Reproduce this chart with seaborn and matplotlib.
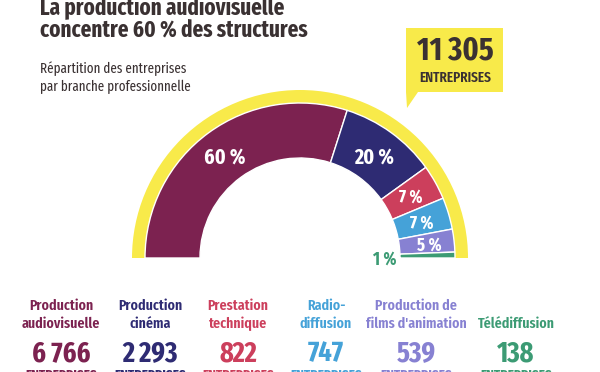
import matplotlib
matplotlib.use("Agg")
import matplotlib.pyplot as plt
from matplotlib.patches import Polygon
import numpy as np
import seaborn as sns

# ---------------- data ----------------
categories = ["Production\naudiovisuelle", "Production\ncinéma", "Prestation\ntechnique",
              "Radio-\ndiffusion", "Production de\nfilms d'animation", "Télédiffusion"]
counts = [6766, 2293, 822, 747, 539, 138]
count_labels = ["6 766", "2 293", "822", "747", "539", "138"]
pct_labels = ["60 %", "20 %", "7 %", "7 %", "5 %", "1 %"]
total_label = "11 305"
unit_label = "ENTREPRISES"
title_lines = ["La production audiovisuelle", "concentre 60 % des structures"]
subtitle_lines = ["Répartition des entreprises", "par branche professionnelle"]

colors = ["#7c2250", "#2e2b73", "#cc3f5c", "#45a2d8", "#8781d2", "#3c9b74"]
yellow = "#f8ea4a"
dark = "#3a3132"

sns.set_theme(style="white")
FONT = ["Fira Sans Extra Condensed", "DejaVu Sans"]
plt.rcParams["font.family"] = FONT

W, H = 600, 372
fig = plt.figure(figsize=(6, 3.72), dpi=100)
fig.patch.set_facecolor("white")
renderer = fig.canvas.get_renderer()


def fx(x):
    return x / W


def fy(y):
    return 1 - y / H


def fit_size(text, target_w, weight, base=12):
    t = fig.text(0, 0, text, fontsize=base, fontweight=weight)
    w = t.get_window_extent(renderer=renderer).width
    t.remove()
    return base * target_w / w


# ---------------- donut ----------------
ax = fig.add_axes([0, 0, 1, 1])
cx, cy = 300, H - 258
R_out, R_in = 155, 100
total = sum(counts)

ax.pie([total, total], colors=[yellow, "none"], startangle=180, counterclock=False,
       radius=168, center=(cx, cy), wedgeprops=dict(width=14, linewidth=0), frame=True)

wedges, _ = ax.pie(counts + [total], colors=colors + ["none"], startangle=180,
                   counterclock=False, radius=R_out, center=(cx, cy),
                   wedgeprops=dict(width=R_out - R_in, edgecolor="white", linewidth=1.0),
                   frame=True)
wedges[-1].set_edgecolor("none")

ax.set_xlim(0, W)
ax.set_ylim(0, H)
ax.set_aspect("equal")
ax.axis("off")

big_pct = fit_size("60 %", 37, "bold") * 1.12
small_pct = fit_size("7 %", 21, "bold") * 1.12
for i, (w, lab) in enumerate(zip(wedges[:-1], pct_labels)):
    mid = np.deg2rad((w.theta1 + w.theta2) / 2)
    size = big_pct if i < 2 else small_pct
    if i == len(pct_labels) - 1:
        x, y = cx + 85, cy
        col = colors[i]
    else:
        r = 127 if i < 4 else 130
        x = cx + r * np.cos(mid)
        y = cy + r * np.sin(mid)
        col = "white"
    ax.text(x, y, lab, color=col, fontsize=size, fontweight="bold",
            ha="center", va="center_baseline")

# ---------------- titles ----------------
ts = fit_size(title_lines[1], 268, "bold")
fig.text(fx(40), fy(14), title_lines[0], fontsize=ts, fontweight="bold", color=dark,
         ha="left", va="baseline")
fig.text(fx(40), fy(37), title_lines[1], fontsize=ts, fontweight="bold", color=dark,
         ha="left", va="baseline")
ss = fit_size(subtitle_lines[0], 146, "normal")
fig.text(fx(40), fy(73), subtitle_lines[0], fontsize=ss, fontweight="normal", color=dark,
         ha="left", va="baseline")
fig.text(fx(40), fy(91), subtitle_lines[1], fontsize=ss, fontweight="normal", color=dark,
         ha="left", va="baseline")

# ---------------- callout ----------------
box = [(406, 28), (503, 28), (503, 92), (418, 92), (407, 108), (406, 92)]
fig.patches.append(Polygon([(fx(x), fy(y)) for x, y in box], closed=True,
                           transform=fig.transFigure, facecolor=yellow, edgecolor="none"))
ns = fit_size(total_label, 73, "bold") * 1.05
us = fit_size(unit_label, 72, "semibold")
fig.text(fx(455), fy(59), total_label, fontsize=ns, fontweight="bold", color=dark,
         ha="center", va="baseline")
fig.text(fx(455), fy(82), unit_label, fontsize=us, fontweight="semibold", color=dark,
         ha="center", va="baseline")

# ---------------- bottom legend ----------------
ls = fit_size("films d'animation", 100, "semibold")
cs = fit_size("6 766", 53, "bold") * 1.1
col_x = [61, 150, 238, 326, 416, 516]
for x, cat, num, c in zip(col_x, categories, count_labels, colors):
    lines = cat.split("\n")
    if len(lines) == 1:
        lines = ["", lines[0]]
    fig.text(fx(x), fy(310), lines[0], fontsize=ls, fontweight="semibold", color=c,
             ha="center", va="baseline")
    fig.text(fx(x), fy(328), lines[1], fontsize=ls, fontweight="semibold", color=c,
             ha="center", va="baseline")
    fig.text(fx(x), fy(361), num, fontsize=cs, fontweight="bold", color=c,
             ha="center", va="baseline")
    fig.text(fx(x), fy(369), unit_label, fontsize=us, fontweight="bold", color=c,
             ha="center", va="top")

fig.savefig("out.png", dpi=100, facecolor="white")
